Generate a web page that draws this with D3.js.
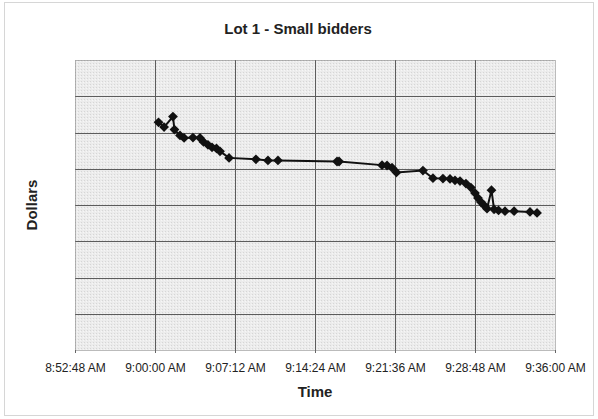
<!DOCTYPE html>
<html><head><meta charset="utf-8">
<script src="https://cdn.jsdelivr.net/npm/d3@7"></script>
<style>body{margin:0;background:#fff;}svg{display:block;font-family:"Liberation Sans",Arial,sans-serif;}</style>
</head><body>
<svg id="c" width="598" height="419"></svg>
<script>
const title = "Lot 1 - Small bidders";
const xLabel = "Time";
const yLabel = "Dollars";
const xTickLabels = ["8:52:48 AM","9:00:00 AM","9:07:12 AM","9:14:24 AM","9:21:36 AM","9:28:48 AM","9:36:00 AM"];
const bidTimes = ["9:00:19","9:00:49","9:01:37","9:01:45","9:02:15","9:02:37","9:03:25","9:04:03","9:04:22","9:04:46","9:05:08","9:05:32","9:05:51","9:06:40","9:09:05","9:10:10","9:11:04","9:16:23","9:16:34","9:20:26","9:20:53","9:21:20","9:21:44","9:24:07","9:25:01","9:25:55","9:26:33","9:27:00","9:27:27","9:27:59","9:28:26","9:28:48","9:29:04","9:29:20","9:29:37","9:29:53","9:30:17","9:30:31","9:30:55","9:31:30","9:32:19","9:33:45","9:34:23"];
const bidValues = [628,615,644,608,592,585,586,585,574,566,559,556,548,530,526,523,523,520,520,510,509,503,490,495,474,473,472,468,466,459,448,433,419,408,399,390,441,388,385,383,383,381,378];
const yDomain = [0, 800];
const yStep = 100;

const parse = s => { const [h,m,sec] = s.split(":").map(Number); return h*3600+m*60+sec; };
const data = bidTimes.map((t,i)=>({t:parse(t), v:bidValues[i]}));
const tickVals = xTickLabels.map(s => parse(s.replace(" AM","")));

const svg = d3.select("#c");
const L=75, R=555, T=60, B=350;
const x = d3.scaleLinear().domain([tickVals[0], tickVals[tickVals.length-1]]).range([L,R]);
const y = d3.scaleLinear().domain(yDomain).range([B,T]);

// frame
svg.append("rect").attr("x",4.5).attr("y",2.5).attr("width",589).attr("height",413)
  .attr("fill","#fff").attr("stroke","#d6d6d6");

// plot background with texture
const defs = svg.append("defs");
const pat = defs.append("pattern").attr("id","tex").attr("width",3).attr("height",3).attr("patternUnits","userSpaceOnUse");
pat.append("rect").attr("width",3).attr("height",3).attr("fill","#ececec");
pat.append("rect").attr("x",0).attr("y",0).attr("width",1).attr("height",1).attr("fill","#d6d6d6");
pat.append("rect").attr("x",2).attr("y",1).attr("width",1).attr("height",1).attr("fill","#f6f6f6");
svg.append("rect").attr("x",L).attr("y",T).attr("width",R-L).attr("height",B-T).attr("fill","url(#tex)");

// grid
const yTicks = d3.range(yDomain[0], yDomain[1]+1, yStep);
svg.append("g").selectAll("line").data(yTicks.slice(1,-1)).join("line")
  .attr("x1",L).attr("x2",R).attr("y1",d=>Math.round(y(d))+0.5).attr("y2",d=>Math.round(y(d))+0.5)
  .attr("stroke","#5c5c5c").attr("stroke-width",1);
svg.append("g").selectAll("line").data(tickVals.slice(1,-1)).join("line")
  .attr("y1",T).attr("y2",B).attr("x1",d=>Math.round(x(d))+0.5).attr("x2",d=>Math.round(x(d))+0.5)
  .attr("stroke","#5c5c5c").attr("stroke-width",1);
svg.append("rect").attr("x",L+0.5).attr("y",T+0.5).attr("width",R-L).attr("height",B-T)
  .attr("fill","none").attr("stroke","#777").attr("stroke-dasharray","1,1");

// x axis
const xAxis = d3.axisBottom(x).tickValues(tickVals).tickFormat((d,i)=>xTickLabels[i]).tickSize(3).tickPadding(10);
const gx = svg.append("g").attr("transform",`translate(0,${B})`).call(xAxis);
gx.select(".domain").remove();
gx.selectAll(".tick line").attr("stroke","#666");
gx.selectAll("text").attr("font-size",12).attr("fill","#222").attr("font-family","\"Liberation Sans\",Arial,sans-serif");

// line & markers
svg.append("path").datum(data).attr("fill","none").attr("stroke","#111").attr("stroke-width",2)
  .attr("d", d3.line().x(d=>x(d.t)).y(d=>y(d.v)));
svg.append("g").selectAll("path").data(data).join("path")
  .attr("d", d3.symbol(d3.symbolSquare, 48)())
  .attr("transform", d=>`translate(${x(d.t)},${y(d.v)}) rotate(45)`)
  .attr("fill","#111");

// titles
svg.append("text").attr("x",298).attr("y",34).attr("text-anchor","middle")
  .attr("font-size",15).attr("font-weight","bold").attr("fill","#222").text(title);
svg.append("text").attr("x",(L+R)/2).attr("y",397).attr("text-anchor","middle")
  .attr("font-size",15).attr("font-weight","bold").attr("fill","#222").text(xLabel);
svg.append("text").attr("transform",`translate(37,${(T+B)/2}) rotate(-90)`).attr("text-anchor","middle")
  .attr("font-size",15).attr("font-weight","bold").attr("fill","#222").text(yLabel);
</script>
</body></html>
